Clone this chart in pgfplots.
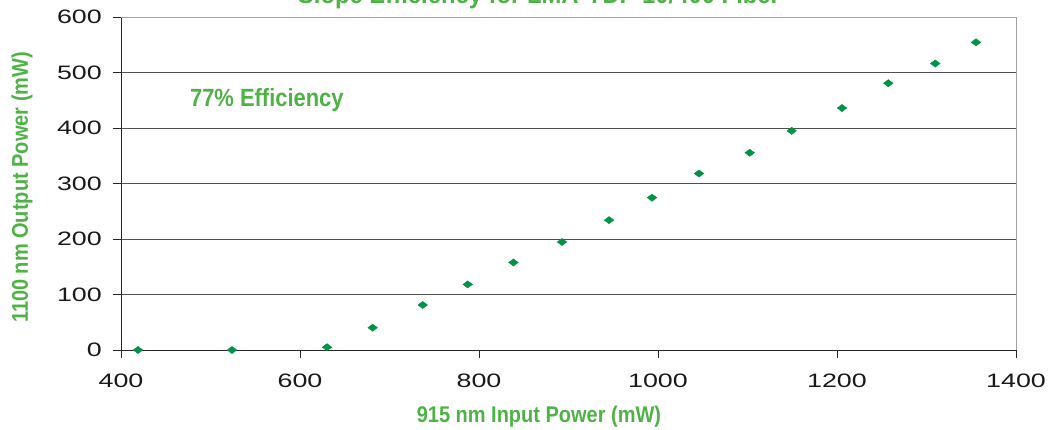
\documentclass[border=0pt]{standalone}
\usepackage{pgfplots}
\pgfplotsset{compat=1.18}
\usepackage{fontspec}
\setmainfont{Liberation Sans}
\newfontfamily\condb{Liberation Sans Bold}[FakeStretch=0.88]
\newfontfamily\condt{Liberation Sans Bold}[FakeStretch=0.92]
\newfontfamily\wide{Liberation Sans}[FakeStretch=1.38]
\definecolor{lblgreen}{RGB}{78,178,70}
\definecolor{mkgreen}{RGB}{0,146,69}
\definecolor{gridgray}{RGB}{80,80,80}
\definecolor{boxgray}{RGB}{160,160,160}
\begin{document}
\begin{tikzpicture}
\useasboundingbox (-121bp,-80bp) rectangle (931bp,350bp);
\begin{axis}[
  at={(0,0)}, anchor=south west,
  scale only axis, width=895bp, height=333bp,
  xmin=400, xmax=1400, ymin=0, ymax=600,
  xtick={400,600,...,1400}, ytick={0,100,...,600},
  axis x line=bottom, axis y line=left,
  axis line style={-, black!85, line width=0.9bp},
  ymajorgrids, major grid style={gridgray, line width=0.9bp},
  tick align=outside, major tick length=8bp,
  tick style={black!85, line width=0.9bp},
  /pgf/number format/assume math mode=true,
  /pgf/number format/1000 sep={},
  tick label style={font=\wide\fontsize{19.5}{20}\selectfont, text=black!90},
  yticklabel style={inner sep=0pt, xshift=-11bp},
  xticklabel style={inner sep=0pt, yshift=-16bp},
  every axis y label/.style={at={(axis description cs:-0.1106,0.488)}, rotate=90, anchor=center},
  every axis x label/.style={at={(axis description cs:0.467,0)}, anchor=center, yshift=-67bp},
  label style={font=\condb\fontsize{22.8}{24}\selectfont, text=lblgreen},
  xlabel={915 nm Input Power (mW)},
  ylabel={1100 nm Output Power (mW)},
  clip=false,
]
\draw[boxgray, line width=0.9bp] (rel axis cs:0,1) -- (rel axis cs:1,1) -- (rel axis cs:1,0);
\addplot[only marks, mark=diamond*, mark size=4.8bp, mark options={rotate=90, fill=mkgreen, draw=mkgreen}] coordinates {
(419.0,0) (524.0,0) (630.2,5) (681.2,40.2) (737.1,81.1) (787.4,118.2)
(838.5,157.7) (892.7,194.6) (945.3,234.0) (993.3,274.4) (1045.8,318.0)
(1102.5,355.4) (1149.4,394.9) (1205.6,436.0) (1257.3,480.7) (1309.8,516.2)
(1355.3,554.4)
};
\node[anchor=west, inner sep=0pt, font=\condb\fontsize{25}{26}\selectfont, text=lblgreen] at (rel axis cs:0.077,0.751) {77\% Efficiency};
\end{axis}
\node[anchor=base, inner sep=0pt, font=\condt\fontsize{26}{27}\selectfont, text=lblgreen] at (418bp,346.5bp) {Slope Efficiency for LMA-YDF-10/400 Fiber};
\end{tikzpicture}
\end{document}
